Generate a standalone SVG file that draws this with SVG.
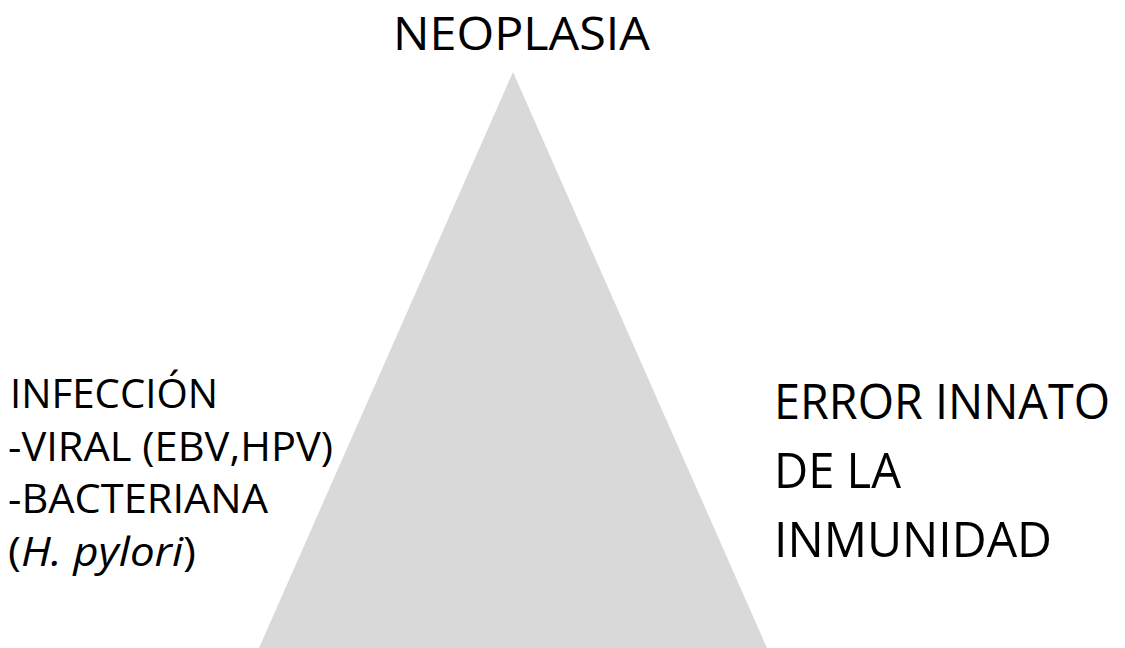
<svg xmlns="http://www.w3.org/2000/svg" width="1125" height="648" viewBox="0 0 1125 648">
<style>
.t{font-family:"Open Sans","Noto Sans","Liberation Sans",sans-serif;fill:#000;}
.l{font-size:41px;}
.r{font-size:49px;}
.top{font-size:45px;}
</style>
<rect width="1125" height="648" fill="#fff"/>
<g id="triangle">
<polygon points="513,72 259,648 767,648" fill="#d9d9d9"/>
</g>
<g id="neoplasia">
<text class="t top" x="393" y="50" textLength="257" lengthAdjust="spacingAndGlyphs">NEOPLASIA</text>
</g>
<g id="infeccion">
<text class="t l" x="10" y="408" textLength="208" lengthAdjust="spacingAndGlyphs">INFECCIÓN</text>
<text class="t l" x="8" y="461" textLength="325" lengthAdjust="spacingAndGlyphs">-VIRAL (EBV,HPV)</text>
<text class="t l" x="8" y="513" textLength="260" lengthAdjust="spacingAndGlyphs">-BACTERIANA</text>
<text class="t l" x="8" y="566" textLength="188" lengthAdjust="spacingAndGlyphs">(<tspan font-style="italic">H. pylori</tspan>)</text>
</g>
<g id="error">
<text class="t r" x="774" y="419" textLength="336" lengthAdjust="spacingAndGlyphs">ERROR INNATO</text>
<text class="t r" x="774" y="488" textLength="127" lengthAdjust="spacingAndGlyphs">DE LA</text>
<text class="t r" x="774" y="557" textLength="278" lengthAdjust="spacingAndGlyphs">INMUNIDAD</text>
</g>
<g id="connectors"/>
</svg>
